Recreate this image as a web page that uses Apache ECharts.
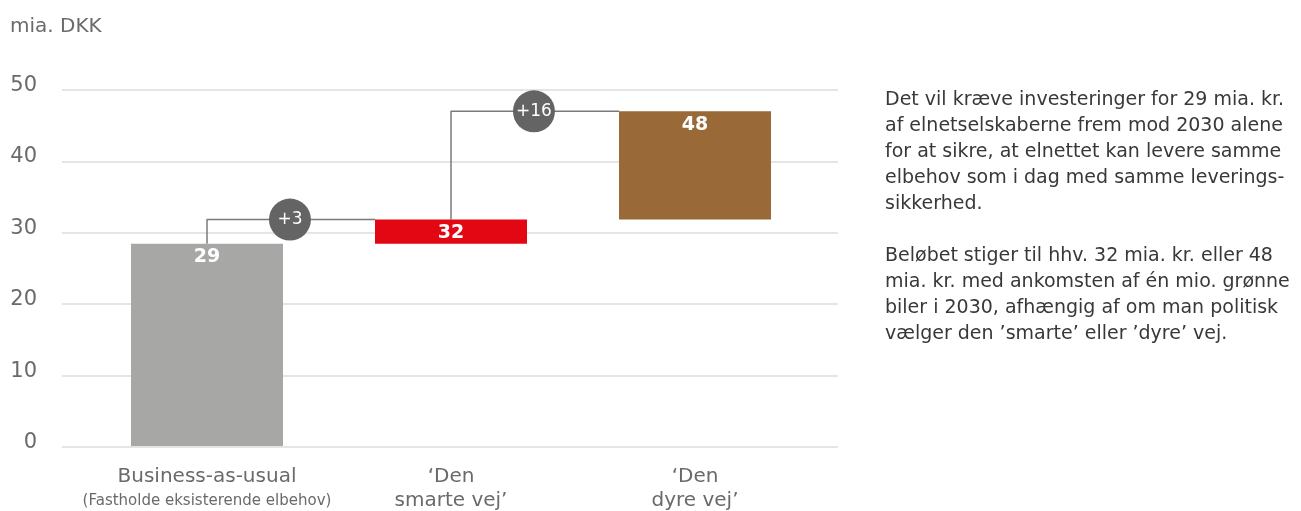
<!DOCTYPE html>
<html>
<head>
<meta charset="utf-8">
<script src="https://cdn.jsdelivr.net/npm/echarts@6/dist/echarts.min.js"></script>
<style>
  html, body { margin: 0; padding: 0; background: #fff; }
  #chart { width: 1301px; height: 511px; }
</style>
</head>
<body>
<div id="chart"></div>
<script>
// data
const categories = ['Business-as-usual', '‘Den smarte vej’', '‘Den dyre vej’'];
const categoryNote = '(Fastholde eksisterende elbehov)';
const barBase = [0, 28.4, 31.8];
const barTop = [28.4, 31.8, 47.0];
const barLabels = ['29', '32', '48'];
const barColors = ['#a7a7a6', '#e30613', '#9a6938'];
const stepLabels = ['+3', '+16'];
const stepPos = [0.34, 1.34]; // bubble position between bars, in category units
const yTicks = [0, 10, 20, 30, 40, 50];
const noteLines = [
  'Det vil kræve investeringer for 29 mia. kr.',
  'af elnetselskaberne frem mod 2030 alene',
  'for at sikre, at elnettet kan levere samme',
  'elbehov som i dag med samme leverings-',
  'sikkerhed.',
  '',
  'Beløbet stiger til hhv. 32 mia. kr. eller 48',
  'mia. kr. med ankomsten af én mio. grønne',
  'biler i 2030, afhængig af om man politisk',
  'vælger den ’smarte’ eller ’dyre’ vej.'
];

const font = 'DejaVu Sans';
const bandPx = 244;
const barPx = 152;
const halfBar = barPx / 2 / bandPx;

const chart = echarts.init(document.getElementById('chart'));

// connector: up from each bar's top, then across to the left edge of the next bar
const connectors = [];
for (let i = 0; i < barTop.length - 1; i++) {
  connectors.push([i, barTop[i]], [i, barTop[i + 1]], [i + 1 - halfBar, barTop[i + 1]], null);
}

const option = {
  animation: false,
  textStyle: { fontFamily: font },
  title: {
    text: 'mia. DKK',
    left: 5,
    top: 12,
    textStyle: { fontSize: 20, fontWeight: 'normal', color: '#6a6a6a', fontFamily: font }
  },
  grid: [
    { left: 62, right: 463, top: 90, bottom: 64 },
    { left: 85, right: 484, top: 90, bottom: 64 }
  ],
  xAxis: [
    { gridIndex: 0, type: 'value', show: false, min: 0, max: 1 },
    {
      gridIndex: 1,
      type: 'category',
      data: categories,
      axisLine: { show: false },
      axisTick: { show: false },
      axisLabel: {
        interval: 0,
        margin: 19,
        color: '#6a6a6a',
        formatter: (v, i) => {
          if (i === 0) return '{a|' + v + '}\n{b|' + categoryNote + '}';
          const parts = v.split(' ');
          return '{a|' + parts[0] + '}\n{a|' + parts.slice(1).join(' ') + '}';
        },
        rich: {
          a: { fontSize: 20, lineHeight: 24, color: '#6a6a6a', fontFamily: font },
          b: { fontSize: 15, lineHeight: 24, color: '#6a6a6a', fontFamily: font }
        }
      }
    },
    { gridIndex: 1, type: 'value', show: false, min: -0.5, max: 2.5 }
  ],
  yAxis: [
    {
      gridIndex: 0,
      type: 'value',
      min: 0,
      max: 50,
      interval: 10,
      axisLine: { show: false },
      axisTick: { show: false },
      axisLabel: {
        margin: 25,
        fontSize: 21,
        color: '#6a6a6a',
        verticalAlign: 'bottom',
        padding: [0, 0, -6, 0],
        formatter: v => (yTicks.indexOf(v) >= 0 ? String(v) : '')
      },
      splitLine: { show: true, lineStyle: { color: '#dcdcdc', width: 1.5 } }
    },
    { gridIndex: 1, type: 'value', min: 0, max: 50, show: false }
  ],
  series: [
    {
      type: 'bar',
      xAxisIndex: 1,
      yAxisIndex: 1,
      stack: 'w',
      barWidth: barPx,
      itemStyle: { color: 'transparent' },
      data: barBase,
      z: 3
    },
    {
      type: 'bar',
      xAxisIndex: 1,
      yAxisIndex: 1,
      stack: 'w',
      barWidth: barPx,
      z: 3,
      data: barTop.map((t, i) => ({
        value: +(t - barBase[i]).toFixed(2),
        itemStyle: { color: barColors[i] }
      })),
      label: {
        show: true,
        position: 'insideTop',
        distance: 4,
        color: '#fff',
        fontWeight: 'bold',
        fontSize: 19,
        fontFamily: font,
        formatter: p => barLabels[p.dataIndex]
      }
    },
    {
      type: 'line',
      xAxisIndex: 2,
      yAxisIndex: 1,
      symbol: 'none',
      connectNulls: false,
      z: 2,
      lineStyle: { color: '#7a7a7a', width: 1.5 },
      data: connectors
    },
    {
      type: 'scatter',
      xAxisIndex: 2,
      yAxisIndex: 1,
      symbol: 'circle',
      symbolSize: 42,
      z: 4,
      itemStyle: { color: '#646464', opacity: 1 },
      label: {
        show: true,
        position: 'inside',
        color: '#fff',
        fontSize: 17,
        fontFamily: font,
        formatter: p => stepLabels[p.dataIndex]
      },
      data: stepLabels.map((s, i) => [stepPos[i], barTop[i + 1]])
    }
  ],
  graphic: [
    {
      type: 'text',
      left: 885,
      top: 87,
      style: {
        text: noteLines.join('\n'),
        fontSize: 19,
        lineHeight: 26,
        fill: '#383838',
        fontFamily: font
      }
    }
  ]
};

chart.setOption(option);
window.addEventListener('resize', chart.resize);
</script>
</body>
</html>
